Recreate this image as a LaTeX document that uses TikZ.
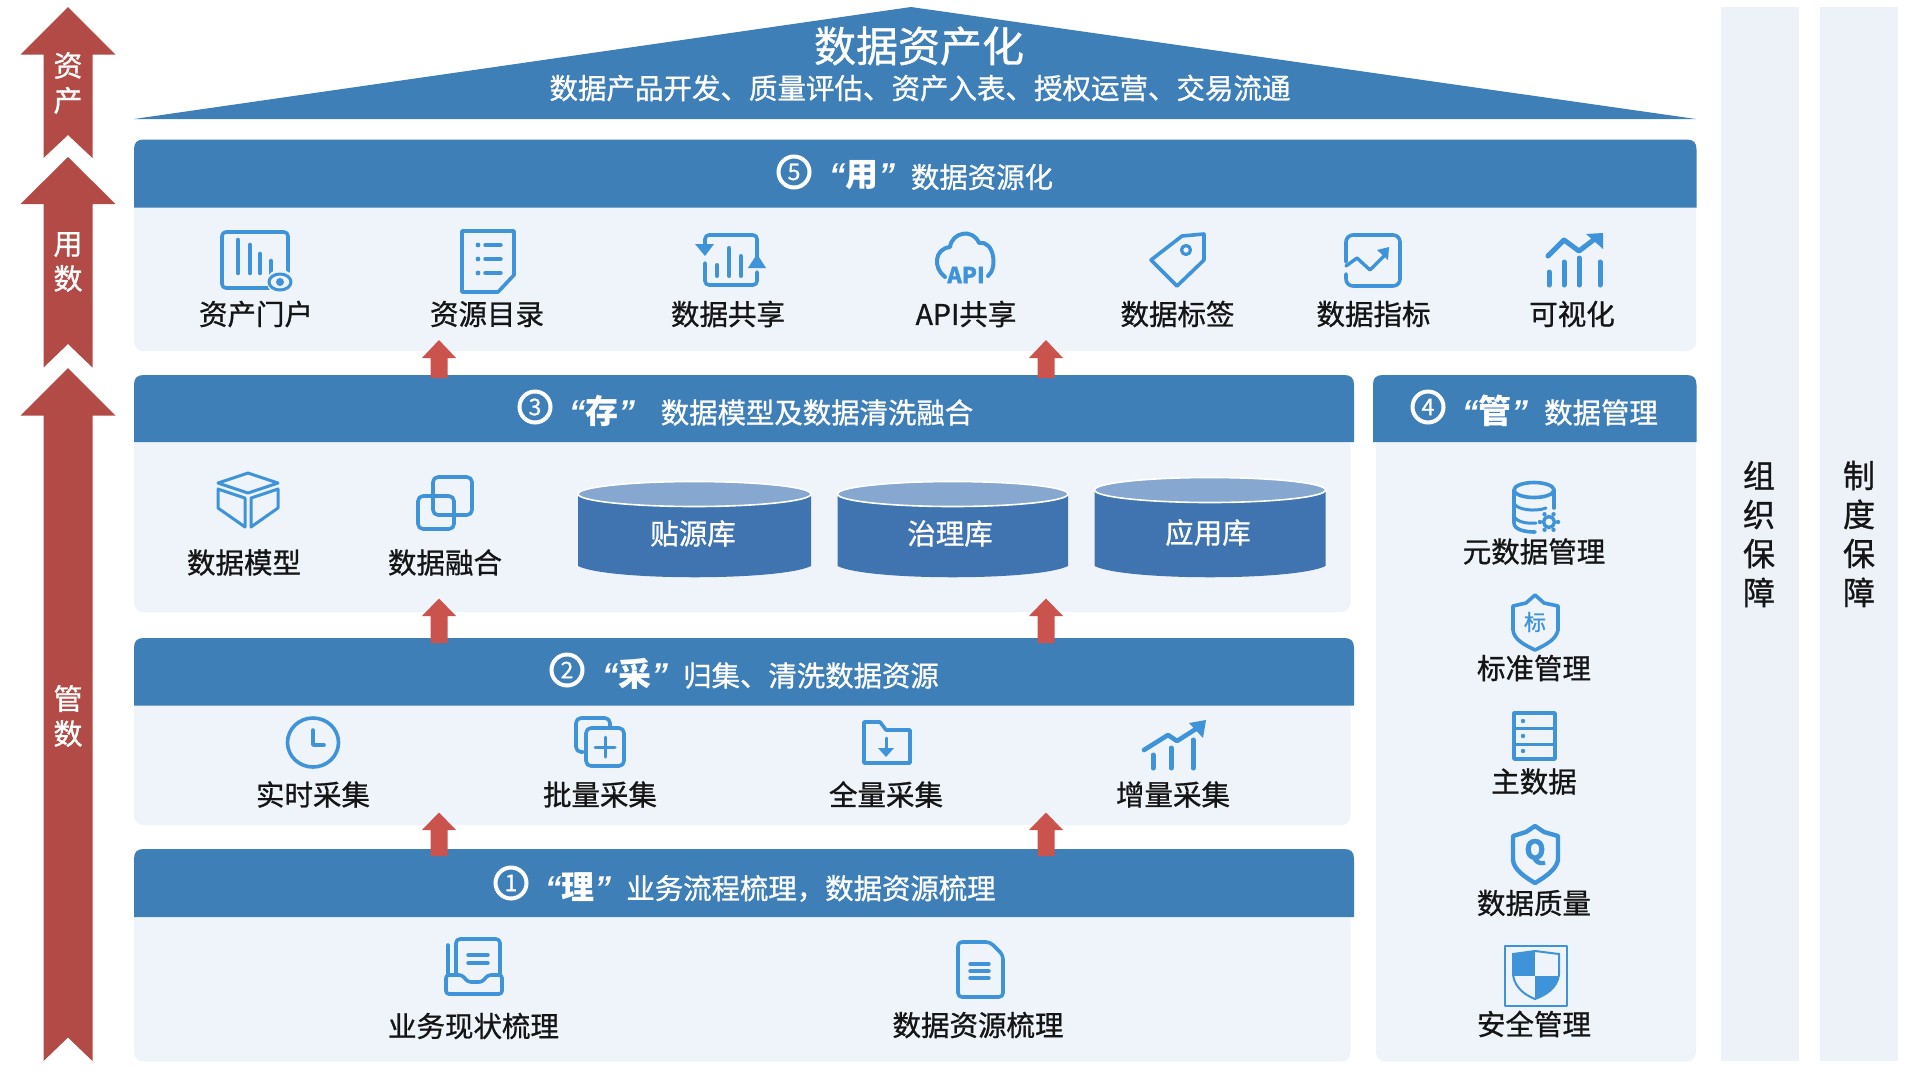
\documentclass[tikz,border=0pt]{standalone}
\usepackage{fontspec}
\usetikzlibrary{calc}
\setmainfont{Noto Sans CJK SC}[FakeBold=0.9]
\newfontfamily\boldcjk{Noto Sans CJK SC}
\newfontfamily\qfont{Liberation Sans}
\definecolor{bandblue}{HTML}{3E7FB8}
\definecolor{bodybg}{HTML}{EFF4FB}
\definecolor{colbg}{HTML}{EDF1F8}
\definecolor{bigred}{HTML}{B24A45}
\definecolor{smallred}{HTML}{CB534D}
\definecolor{cylbody}{HTML}{4074B1}
\definecolor{cyltop}{HTML}{86A7CF}
\definecolor{iconblue}{HTML}{3F93D8}
\definecolor{inktext}{HTML}{151515}
\tikzset{
  x=1pt,y=-1pt,
  lbl/.style={font=\fontsize{28.5}{28.5}\selectfont,text=inktext,inner sep=0pt},
  hdr/.style={font=\fontsize{28.4}{28.4}\selectfont,text=white,inner sep=0pt},
  kw/.style={font=\fontsize{33}{33}\selectfont,text=white,inner sep=0pt},
  numc/.style={circle,draw=white,line width=4pt,text=white,minimum size=31pt,inner sep=0pt,font=\fontsize{23}{23}\selectfont},
  cyltxt/.style={font=\fontsize{28.5}{28.5}\selectfont,text=white,inner sep=0pt},
  vtxt/.style={align=center,font=\fontsize{32}{39}\selectfont,text=inktext,inner sep=0pt},
  atxt/.style={align=center,font=\fontsize{29}{35}\selectfont,text=white,inner sep=0pt},
  ico/.style={draw=iconblue,line width=3.6pt,line cap=round,line join=round},
  body/.style={fill=bodybg,rounded corners=9pt},
  head/.style={fill=bandblue},
  cylb/.style={fill=cylbody},
  cylt/.style={fill=cyltop,draw=white,line width=1.6pt},
}
\newcommand{\kwq}[1]{{\qfont\itshape\bfseries “}{\boldcjk\bfseries #1}{\qfont\itshape\bfseries ”}}
% header: x1 y1 x2 y2
\newcommand{\headband}[4]{\fill[head] (#1,#4) -- (#1,#2+10) .. controls (#1,#2+3) and (#1+3,#2) .. (#1+10,#2) -- (#3-10,#2) .. controls (#3-3,#2) and (#3,#2+3) .. (#3,#2+10) -- (#3,#4) -- cycle;}
% small red arrow: cx tip headbase bottom
\newcommand{\uparr}[4]{\fill[smallred] (#1,#2) -- (#1+17,#3) -- (#1+8.5,#3) -- (#1+8.5,#4) -- (#1-8.5,#4) -- (#1-8.5,#3) -- (#1-17,#3) -- cycle;}
% big red arrow: tip headbase bottom notch
\newcommand{\bigarr}[4]{\fill[bigred] (68,#1) -- (115.5,#2) -- (92.5,#2) -- (92.5,#3) -- (68,#4) -- (43.5,#3) -- (43.5,#2) -- (20.5,#2) -- cycle;}
% cylinder: x1 x2 cy
\newcommand{\cyl}[3]{\fill[cylb] (#1,#3) -- (#1,566) .. controls (#1+30,581) and (#2-30,581) .. (#2,566) -- (#2,#3) -- cycle;
  \draw[cylt] ({(#1+#2)/2},#3) ellipse [x radius={(#2-#1)/2},y radius=12.5];}
\begin{document}
\begin{tikzpicture}
\useasboundingbox (0,0) rectangle (1920,1080);
\fill[white] (0,0) rectangle (1920,1080);

% right columns
\fill[colbg] (1720.5,7) rectangle (1799,1061);
\fill[colbg] (1820,7) rectangle (1898,1061);
\node[vtxt] (org) at (1759,534) {组\\织\\保\\障};
\node[vtxt] (sys) at (1859,534) {制\\度\\保\\障};

% left arrows
\bigarr{7}{54.5}{158}{135}
\bigarr{157}{204}{367.5}{344}
\bigarr{368}{415.5}{1061}{1037.5}
\node[atxt] (a1) at (68,83) {资\\产};
\node[atxt] (a2) at (68,262) {用\\数};
\node[atxt] (a3) at (68,716) {管\\数};

% roof
\fill[bandblue] (911,7) -- (1696,119) -- (134,119) -- cycle;
\node[inner sep=0pt,text=white,font=\fontsize{42}{42}\selectfont] (t1) at (919,46) {数据资产化};
\node[inner sep=0pt,text=white,font=\fontsize{28.5}{28.5}\selectfont] (t2) at (920,88) {数据产品开发、质量评估、资产入表、授权运营、交易流通};

% panels
\fill[body] (134,190) rectangle (1696,351);
\fill[body] (134,425) rectangle (1350.5,612);
\fill[body] (134,690) rectangle (1350.5,825);
\fill[body] (134,900) rectangle (1350.5,1061.5);
\fill[body] (1376,425) rectangle (1696,1061.5);
\headband{134}{139.5}{1696.5}{207.5}
\headband{134}{375}{1354}{442}
\headband{1373}{375}{1696.5}{442}
\headband{134}{638}{1354}{705.5}
\headband{134}{849}{1354}{917}

% small arrows
\uparr{439}{340}{358}{378}
\uparr{1046}{340}{358}{378}
\uparr{439}{598.5}{616}{643}
\uparr{1046}{598.5}{616}{643}
\uparr{439}{812.5}{830}{856}
\uparr{1046}{812.5}{830}{856}

% headers
\node[numc] (n5) at (794,172) {5};
\node[kw] (k5) at (862,175) {\kwq{用}};
\node[hdr] (h5) at (982,177) {数据资源化};
\node[numc] (n3) at (535,407) {3};
\node[kw] (k3) at (602,411) {\kwq{存}};
\node[hdr] (h3) at (817,412.5) {数据模型及数据清洗融合};
\node[numc] (n4) at (1428,407) {4};
\node[kw] (k4) at (1495,411) {\kwq{管}};
\node[hdr] (h4) at (1601,412.5) {数据管理};
\node[numc] (n2) at (567,670) {2};
\node[kw] (k2) at (635,674) {\kwq{采}};
\node[hdr] (h2) at (811,675.5) {归集、清洗数据资源};
\node[numc] (n1) at (511,883) {1};
\node[kw] (k1) at (578,887) {\kwq{理}};
\node[hdr] (h1) at (811,888.5) {业务流程梳理，数据资源梳理};

% labels
\foreach \nm/\px/\py/\tx in {
 l1/256/314/资产门户, l2/487/314/资源目录, l3/728/314/数据共享, l4/966/314/API共享, l5/1177.5/314/数据标签, l6/1373.5/314/数据指标, l7/1572/314/可视化,
 l8/244/562.5/数据模型, l9/445/562.5/数据融合,
 l10/313/794.5/实时采集, l11/600/794.5/批量采集, l12/886/794.5/全量采集, l13/1173/794.5/增量采集,
 l14/473.5/1026/业务现状梳理, l15/978/1025/数据资源梳理,
 r1/1534/551.5/元数据管理, r2/1534/668/标准管理, r3/1534/781.5/主数据, r4/1534/903/数据质量, r5/1534/1024/安全管理}
 {\node[lbl] (\nm) at (\px,\py) {\tx};}

% cylinders
\cyl{578}{811}{494}
\cyl{837.5}{1068}{494}
\cyl{1094.5}{1325.5}{490}
\node[cyltxt] (c1) at (693,533.5) {贴源库};
\node[cyltxt] (c2) at (950,533.5) {治理库};
\node[cyltxt] (c3) at (1208,532.5) {应用库};

% ---- icons row 5
\draw[ico,rounded corners=4pt] (274,288) -- (222,288) -- (222,232) -- (288,232) -- (288,272);
\foreach \bx/\by in {238/240,250/245,260/254,271/261} \draw[ico,line width=4.6pt] (\bx,\by) -- (\bx,273);
\fill[bodybg] (280,282) circle (13);
\draw[ico,line width=3pt] (280,282) ellipse [x radius=11,y radius=8];
\fill[iconblue] (280,282) circle (4);

\draw[ico] (462,231) -- (514,231) -- (514,275) -- (498,292) -- (462,292) -- cycle;
\foreach \ly in {245,259,273} {\fill[iconblue] (478,\ly) circle (2.4); \draw[ico,line width=3.4pt] (485,\ly) -- (501,\ly);}

\draw[ico,rounded corners=4pt] (705,248) -- (705,235) -- (757,235) -- (757,262);
\draw[ico,rounded corners=4pt] (705,263) -- (705,285) -- (757,285) -- (757,272);
\fill[iconblue] (695,244) -- (714,244) -- (705,256) -- cycle;
\fill[iconblue] (748,268) -- (766,268) -- (757,254) -- cycle;
\foreach \bx/\by in {717/265,729/248,741/256} \draw[ico,line width=4pt] (\bx,\by) -- (\bx,276);

\draw[ico,line width=4pt] (945,277) .. controls (933,268) and (934,249) .. (950,247) .. controls (952,232) and (973,228) .. (979,243) .. controls (994,240) and (998,268) .. (988,276);
\node[inner sep=0pt,text=iconblue,font=\fontsize{22}{22}\selectfont\bfseries] (apit) at (966,275) {API};

\draw[ico] (1182,236) -- (1204,234) -- (1204,260) -- (1177,286) -- (1151,260) -- cycle;
\draw[ico,line width=3.2pt] (1186,250) circle (4.5);

\draw[ico,rounded corners=7pt] (1346,262) -- (1346,235) -- (1400,235) -- (1400,286) -- (1346,286) -- (1346,274);
\draw[ico,line width=3.4pt] (1346,266) -- (1357,258) -- (1370,270) -- (1385,255);
\fill[iconblue] (1377,250) -- (1389,247) -- (1388,260) -- cycle;

\foreach \bx/\by in {1549/272,1564/262,1579/258,1600/262} \draw[ico,line width=5pt] (\bx,\by) -- (\bx,285);
\draw[ico,line width=5pt] (1548,256) -- (1564,240) -- (1579,251) -- (1596,238);
\fill[iconblue] (1586,234) -- (1603,233) -- (1603,249) -- cycle;

% ---- icons row 3
\draw[ico,line width=3pt] (248,473) -- (278,483) -- (248,493) -- (218,483) -- cycle;
\draw[ico,line width=3pt] (218,489) -- (218,508) -- (245,527) -- (245,498) -- cycle;
\draw[ico,line width=3pt] (278,489) -- (278,508) -- (251,527) -- (251,498) -- cycle;

\draw[ico,rounded corners=5pt] (433,477) rectangle (472,515);
\draw[ico,rounded corners=5pt] (418,496) rectangle (454,529);

% ---- icons row 2
\draw[ico] (313,742.5) ellipse [x radius=25.5,y radius=24.5];
\draw[ico] (313,730) -- (313,745) -- (324,745);

\draw[ico,rounded corners=5pt] (583,752) -- (576,752) -- (576,718) -- (610,718) -- (610,726);
\draw[ico,rounded corners=5pt,fill=bodybg] (586,728) rectangle (624,766);
\draw[ico,line width=3pt] (605,737) -- (605,757) (595,747) -- (615,747);

\draw[ico] (864,722) -- (880,722) -- (886,730) -- (910,730) -- (910,763) -- (864,763) -- cycle;
\draw[ico,line width=3pt] (886,738) -- (886,750);
\fill[iconblue] (878,748) -- (894,748) -- (886,757) -- cycle;

\foreach \bx/\by in {1153/755,1171/748,1193/740} \draw[ico,line width=5pt] (\bx,\by) -- (\bx,768);
\draw[ico,line width=4.6pt] (1144,750) -- (1168,735) -- (1177,741) -- (1199,727);
\fill[iconblue] (1189,723) -- (1206,720) -- (1203,738) -- cycle;

% ---- icons row 1
\draw[ico] (448,975) -- (448,945);
\draw[ico,rounded corners=4pt] (456,975) -- (456,939) -- (500,939) -- (500,975);
\draw[ico,line width=3.4pt] (468,955) -- (488,955) (468,963) -- (488,963);
\draw[ico,fill=bodybg,rounded corners=3pt] (446,975) -- (462,975) -- (468,982) -- (482,982) -- (488,975) -- (502,975) -- (502,994) -- (446,994) -- cycle;

\draw[ico,rounded corners=4pt] (990,942) -- (958,942) -- (958,997) -- (1003,997) -- (1003,955) -- cycle;
\draw[ico,line width=3.4pt] (970,964) -- (989,964) (970,971) -- (989,971) (970,978) -- (989,978);

% ---- icons right column
\draw[ico] (1534,490) ellipse [x radius=20,y radius=7.5];
\draw[ico] (1514,490) -- (1514,523) .. controls (1514,530) and (1526,532) .. (1535,532);
\draw[ico] (1554,490) -- (1554,508);
\draw[ico,line width=3pt] (1514,503) .. controls (1516,510) and (1536,512) .. (1546,508);
\draw[ico,line width=3pt] (1514,516) .. controls (1516,522) and (1528,524) .. (1536,523);
\draw[ico,line width=3.4pt] (1549,522) circle (5.5);
\foreach \ang in {0,60,...,300} \fill[iconblue] ($(1549,522)+(\ang:9)$) circle (2.2);

\draw[ico] (1535,595) -- (1544,603) -- (1558,606) -- (1558,630) .. controls (1556,640) and (1545,645) .. (1535,650) .. controls (1525,645) and (1514,640) .. (1513,630) -- (1513,606) -- (1526,603) -- cycle;
\node[inner sep=0pt,text=iconblue,font=\fontsize{22}{22}\selectfont] (biao) at (1535,622) {标};

\draw[ico] (1514,713) rectangle (1555,759);
\draw[ico,line width=3pt] (1514,728) -- (1555,728) (1514,744) -- (1555,744);
\foreach \sy in {721,736,751} \fill[iconblue] (1523,\sy) circle (2.2);

\draw[ico,line width=4.4pt] (1535,826) -- (1544,832) -- (1558,836) -- (1558,860) .. controls (1556,870) and (1545,877) .. (1535,883) .. controls (1525,877) and (1514,870) .. (1513,860) -- (1513,836) -- (1526,832) -- cycle;
\node[inner sep=0pt,text=iconblue,font=\fontsize{27}{27}\selectfont\bfseries] (qq) at (1535,852) {Q};

\draw[ico,line width=2.6pt] (1505,946) rectangle (1567,1006);
\begin{scope}
\clip (1513,954) -- (1535,951) -- (1559,954) -- (1559,975) .. controls (1557,988) and (1546,995) .. (1535,999) .. controls (1525,995) and (1515,988) .. (1513,975) -- cycle;
\fill[iconblue] (1513,950) rectangle (1535,976);
\fill[iconblue] (1535,976) rectangle (1560,1002);
\end{scope}
\draw[iconblue,line width=2pt] (1513,954) -- (1535,951) -- (1559,954) -- (1559,975) .. controls (1557,988) and (1546,995) .. (1535,999) .. controls (1525,995) and (1515,988) .. (1513,975) -- cycle;
\end{tikzpicture}
\end{document}
